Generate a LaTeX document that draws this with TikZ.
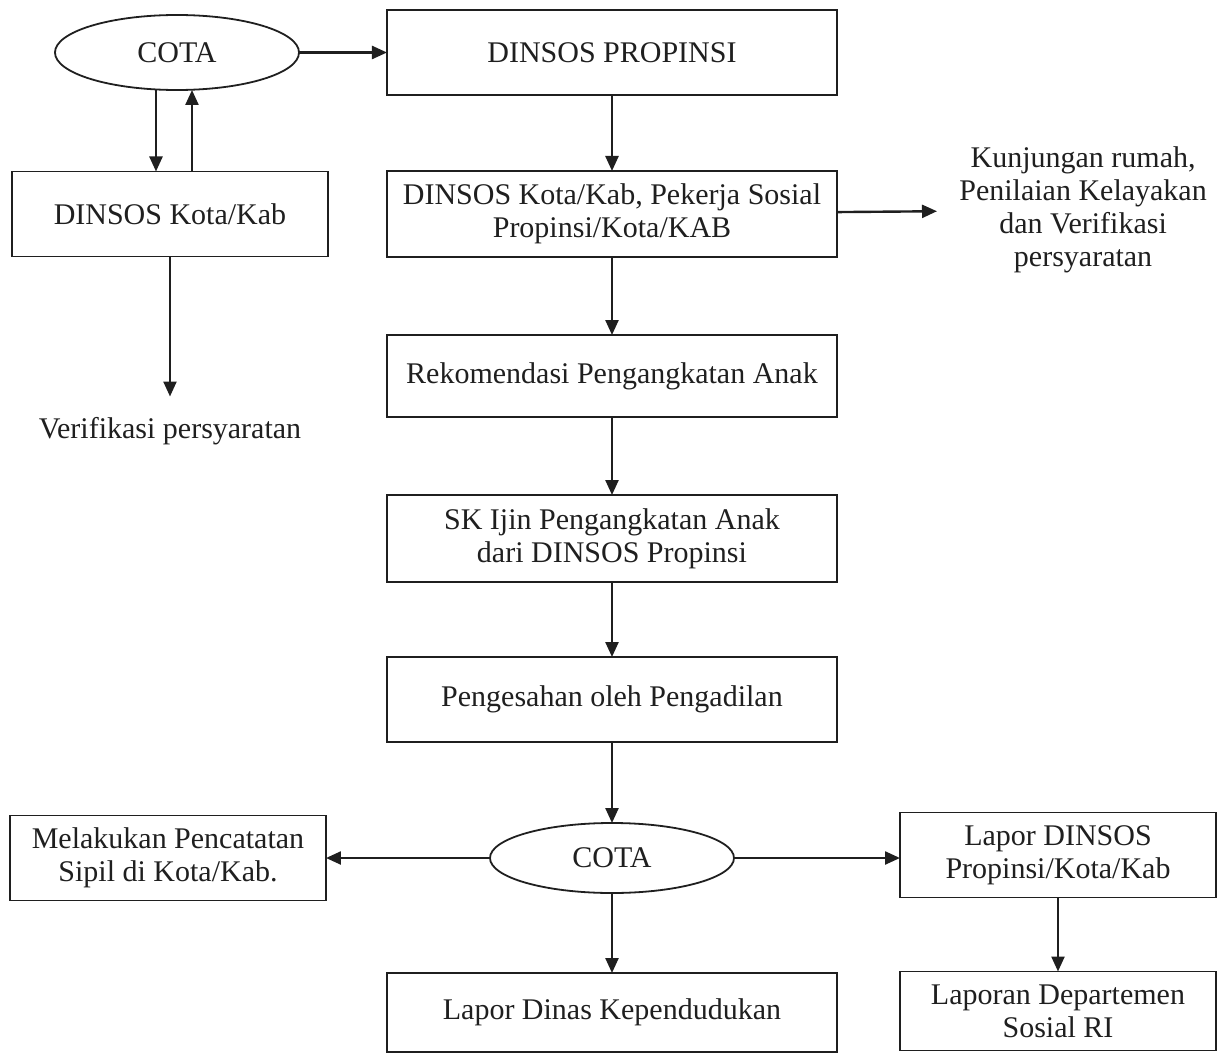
\documentclass[tikz,border=0pt]{standalone}
\usepackage{fontspec}
\setmainfont{Liberation Serif}
\usepackage{tikz}
\usetikzlibrary{arrows.meta, positioning, shapes.geometric}

\begin{document}
\begin{tikzpicture}[
    box/.style={rectangle, draw, line width=0.9pt, minimum width=225pt, minimum height=42.5pt, align=center, inner sep=2pt, outer sep=0pt},
    sidebox/.style={box, minimum width=158pt},
    oval/.style={ellipse, draw, line width=0.9pt, minimum width=122pt, minimum height=36pt, inner sep=0pt, outer sep=0pt},
    arrow/.style={->, line width=1.2pt},
    >={Triangle[length=7.5pt, width=6.5pt]},
    color=black!88,
    font=\fontsize{15}{16.5}\selectfont
]
\useasboundingbox (-306pt,26.25pt) rectangle (307pt,-500.75pt);

% Main column
\node[box] (propinsi) {DINSOS PROPINSI};
\node[box, below=38pt of propinsi, minimum height=43pt] (pekerja) {DINSOS Kota/Kab, Pekerja Sosial\\Propinsi/Kota/KAB};
\node[box, below=39pt of pekerja, minimum height=41pt] (rekom) {Rekomendasi Pengangkatan Anak};
\node[box, below=39pt of rekom, minimum height=43.5pt] (skijin) {SK Ijin Pengangkatan Anak\\dari DINSOS Propinsi};
\node[box, below=37.5pt of skijin] (sah) {Pengesahan oleh Pengadilan};
\node[oval, below=40.5pt of sah, minimum height=35pt] (cota2) {COTA};
\node[box, below=40pt of cota2, minimum height=39.5pt] (lapordinas) {Lapor Dinas Kependudukan};

% Upper side
\node[oval, left=44pt of propinsi, minimum height=37.5pt] (cota1) {COTA};
\node[sidebox, left=29.5pt of pekerja] (kotakab) {DINSOS Kota/Kab};
\node[below=70pt of kotakab, inner sep=10pt] (verif) {Verifikasi persyaratan};
\node[right=50pt of pekerja, align=center, inner sep=11pt, yshift=2pt] (kunjungan) {Kunjungan rumah,\\Penilaian Kelayakan\\dan Verifikasi\\persyaratan};

% Lower side
\node[sidebox, left=82pt of cota2] (catat) {Melakukan Pencatatan\\Sipil di Kota/Kab.};
\node[sidebox, right=83pt of cota2, yshift=1.5pt] (lapordinsos) {Lapor DINSOS\\Propinsi/Kota/Kab};
\node[sidebox, below=37pt of lapordinsos, minimum height=39.5pt] (depsos) {Laporan Departemen\\Sosial RI};

% Arrows around the first COTA
\coordinate (dn) at ([xshift=-10.5pt]cota1.south);
\coordinate (up) at ([xshift=7.5pt]cota1.south);
\draw[arrow] (cota1) -- (propinsi);
\draw[arrow] (dn) -- (dn |- kotakab.north);
\draw[arrow] (up |- kotakab.north) -- (up);
\draw[arrow] (kotakab) -- (verif);

% Arrows down the main column
\draw[arrow] (propinsi) -- (pekerja);
\draw[arrow] (pekerja) -- (kunjungan);
\draw[arrow] (pekerja) -- (rekom);
\draw[arrow] (rekom) -- (skijin);
\draw[arrow] (skijin) -- (sah);
\draw[arrow] (sah) -- (cota2);

% Arrows from the second COTA
\draw[arrow] (cota2) -- (catat);
\draw[arrow] (cota2.east) -- (cota2.east -| lapordinsos.west);
\draw[arrow] (cota2) -- (lapordinas);
\draw[arrow] (lapordinsos) -- (depsos);

\end{tikzpicture}
\end{document}
